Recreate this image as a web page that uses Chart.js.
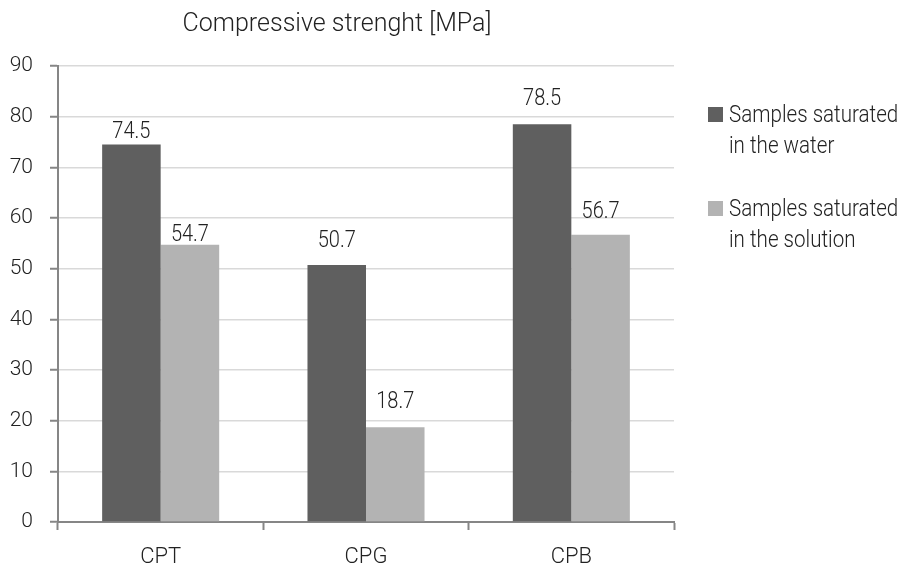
<!DOCTYPE html>
<html>
<head>
<meta charset="utf-8">
<script src="https://cdn.jsdelivr.net/npm/chart.js@4/dist/chart.umd.min.js"></script>
<style>
  html, body { margin: 0; padding: 0; background: #ffffff; }
  #wrap { width: 901px; height: 565px; position: relative; }
</style>
</head>
<body>
<div id="wrap"><canvas id="c" width="901" height="565"></canvas></div>
<script>
// Compressive strength of the three mixes after saturation
const categories = ['CPT', 'CPG', 'CPB'];
const waterValues = [74.5, 50.7, 78.5];
const solutionValues = [54.7, 18.7, 56.7];
const waterLabel = ['Samples saturated', 'in the water'];
const solutionLabel = ['Samples saturated', 'in the solution'];
const titleText = 'Compressive strenght [MPa]';

const FONT = 'Roboto, "Liberation Sans", sans-serif';
const TEXT = '#222222';
const AXIS = '#868686';
const GRID = '#d9d9d9';

// Draw text squeezed horizontally so it reads like a condensed face
function drawNarrow(ctx, text, x, y, sx, align) {
  ctx.save();
  const w = ctx.measureText(text).width * sx;
  let left = x;
  if (align === 'center') left = x - w / 2;
  else if (align === 'right') left = x - w;
  ctx.translate(left, y);
  ctx.scale(sx, 1);
  ctx.textAlign = 'left';
  ctx.fillText(text, 0, 0);
  ctx.restore();
}

// Value labels above each bar
const valueLabels = {
  id: 'valueLabels',
  afterDatasetsDraw(chart, args, opts) {
    const ctx = chart.ctx;
    ctx.save();
    ctx.font = '300 23px ' + FONT;
    ctx.fillStyle = TEXT;
    ctx.textBaseline = 'alphabetic';
    chart.data.datasets.forEach((ds, di) => {
      const meta = chart.getDatasetMeta(di);
      meta.data.forEach((bar, i) => {
        const lift = opts.lift[di][i];
        drawNarrow(ctx, ds.data[i].toFixed(1), bar.x, bar.y - lift, 0.87, 'center');
      });
    });
    ctx.restore();
  }
};

// Legend on the right with two-line entries
const sideLegend = {
  id: 'sideLegend',
  afterDraw(chart, args, opts) {
    const ctx = chart.ctx;
    ctx.save();
    ctx.font = '300 23px ' + FONT;
    ctx.textBaseline = 'alphabetic';
    chart.data.datasets.forEach((ds, di) => {
      const top = opts.top + di * opts.entryGap;
      ctx.fillStyle = ds.backgroundColor;
      ctx.fillRect(opts.x, top, 15, 15);
      ctx.fillStyle = TEXT;
      ds.label.forEach((line, li) => {
        drawNarrow(ctx, line, opts.x + 21, top + 15 + li * opts.lineGap, 0.895, 'left');
      });
    });
    ctx.restore();
  }
};

new Chart(document.getElementById('c'), {
  type: 'bar',
  data: {
    labels: categories,
    datasets: [
      { label: waterLabel, data: waterValues, backgroundColor: '#5f5f5f',
        categoryPercentage: 0.57, barPercentage: 1.0 },
      { label: solutionLabel, data: solutionValues, backgroundColor: '#b3b3b3',
        categoryPercentage: 0.57, barPercentage: 1.0 }
    ]
  },
  options: {
    responsive: false,
    animation: false,
    layout: { padding: { left: 0, right: 227, top: 0, bottom: 0 } },
    plugins: {
      legend: { display: false },
      tooltip: { enabled: false },
      title: {
        display: true,
        text: titleText,
        color: TEXT,
        font: { family: FONT, size: 25, weight: 300, lineHeight: 1.2 },
        padding: { top: 10, bottom: 26 }
      },
      valueLabels: { lift: [[7, 18, 19], [4, 19, 17]] },
      sideLegend: { x: 708, top: 107, entryGap: 94, lineGap: 31 }
    },
    scales: {
      x: {
        offset: true,
        grid: {
          offset: true,
          drawOnChartArea: false,
          tickLength: 8,
          tickColor: AXIS,
          tickWidth: 2
        },
        border: { color: AXIS, width: 2 },
        ticks: { color: TEXT, padding: 14, font: { family: FONT, size: 22, weight: 300 } },
        afterFit(scale) { scale.height = 43; }
      },
      y: {
        min: 0,
        max: 90,
        ticks: { stepSize: 10, color: TEXT, padding: 17,
                 font: { family: FONT, size: 21, weight: 300 } },
        grid: { color: GRID, lineWidth: 1.5, tickLength: 8, tickColor: AXIS, tickWidth: 2 },
        border: { color: AXIS, width: 2 },
        afterFit(scale) { scale.width = 58; }
      }
    }
  },
  plugins: [valueLabels, sideLegend]
});
</script>
</body>
</html>
